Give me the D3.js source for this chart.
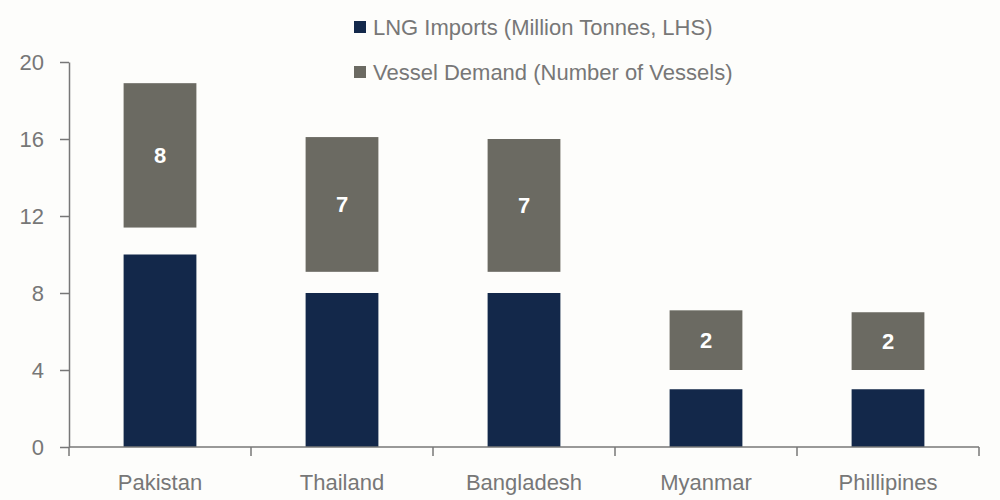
<!DOCTYPE html>
<html>
<head>
<meta charset="utf-8">
<script src="https://cdn.jsdelivr.net/npm/d3@7"></script>
<style>
  body { margin: 0; background: #fdfdfb; }
  text { font-family: "Liberation Sans Narrow", "Arial Narrow", "Liberation Sans", sans-serif; }
</style>
</head>
<body>
<svg id="chart"></svg>
<script>
const width = 1000;
const height = 500;
const margin = { top: 62, right: 21, bottom: 53, left: 69 };

// data
const countries = ["Pakistan", "Thailand", "Bangladesh", "Myanmar", "Phillipines"];
const lngImports = [10, 8, 8, 3, 3];
const vesselLow = [11.4, 9.1, 9.1, 4.0, 4.0];
const vesselHigh = [18.9, 16.1, 16.0, 7.1, 7.0];
const vesselCount = [8, 7, 7, 2, 2];
const yTicks = [0, 4, 8, 12, 16, 20];
const legendLabels = ["LNG Imports (Million Tonnes, LHS)", "Vessel Demand (Number of Vessels)"];

const navy = "#13284a";
const grey = "#6b6a62";
const axisGrey = "#777";

const svg = d3.select("#chart").attr("width", width).attr("height", height);

const x = d3.scaleBand()
    .domain(countries)
    .range([margin.left, width - margin.right]);

const y = d3.scaleLinear()
    .domain([0, 20])
    .range([height - margin.bottom, margin.top]);

const barW = x.bandwidth() * 0.4;
const barX = d => x(d) + (x.bandwidth() - barW) / 2;

// navy bars
svg.selectAll(".lng")
    .data(countries)
    .enter().append("rect")
    .attr("class", "lng")
    .attr("x", barX)
    .attr("y", (d, i) => y(lngImports[i]))
    .attr("width", barW)
    .attr("height", (d, i) => y(0) - y(lngImports[i]))
    .attr("fill", navy);

// grey floating bars
svg.selectAll(".vessel")
    .data(countries)
    .enter().append("rect")
    .attr("class", "vessel")
    .attr("x", barX)
    .attr("y", (d, i) => y(vesselHigh[i]))
    .attr("width", barW)
    .attr("height", (d, i) => y(vesselLow[i]) - y(vesselHigh[i]))
    .attr("fill", grey);

svg.selectAll(".vlabel")
    .data(countries)
    .enter().append("text")
    .attr("class", "vlabel")
    .attr("x", d => x(d) + x.bandwidth() / 2)
    .attr("y", (d, i) => y((vesselLow[i] + vesselHigh[i]) / 2))
    .attr("dy", "0.36em")
    .attr("text-anchor", "middle")
    .attr("fill", "#fff")
    .style("font-family", "'Liberation Sans', Arial, sans-serif")
    .style("font-weight", "bold")
    .style("font-size", "22px")
    .text((d, i) => vesselCount[i]);

// y axis
const yAxis = svg.append("g")
    .attr("transform", `translate(${margin.left},0)`)
    .call(d3.axisLeft(y).tickValues(yTicks).tickSize(9).tickPadding(16).tickSizeOuter(0));
yAxis.select(".domain").attr("stroke", axisGrey).attr("stroke-width", 1.5);
yAxis.selectAll(".tick line").attr("stroke", axisGrey).attr("stroke-width", 1.5);
yAxis.selectAll(".tick text")
    .attr("fill", axisGrey)
    .style("font-size", "22px");

// x axis with ticks at band boundaries
const xAxis = svg.append("g")
    .attr("transform", `translate(0,${y(0)})`);
xAxis.append("line")
    .attr("x1", margin.left).attr("x2", width - margin.right)
    .attr("stroke", axisGrey).attr("stroke-width", 1.5);
const bounds = countries.map(d => x(d)).concat([x(countries[countries.length - 1]) + x.bandwidth()]);
xAxis.selectAll(".xtick")
    .data(bounds)
    .enter().append("line")
    .attr("x1", d => d).attr("x2", d => d)
    .attr("y1", 0).attr("y2", 9)
    .attr("stroke", axisGrey).attr("stroke-width", 1.5);
xAxis.selectAll(".xlabel")
    .data(countries)
    .enter().append("text")
    .attr("x", d => x(d) + x.bandwidth() / 2)
    .attr("y", 43)
    .attr("text-anchor", "middle")
    .attr("fill", axisGrey)
    .style("font-size", "22px")
    .text(d => d);

// legend
const legend = svg.append("g").attr("transform", "translate(354,0)");
const legendColors = [navy, grey];
legend.selectAll("rect")
    .data(legendLabels)
    .enter().append("rect")
    .attr("x", 0)
    .attr("y", (d, i) => 21 + i * 45)
    .attr("width", 12)
    .attr("height", 12)
    .attr("fill", (d, i) => legendColors[i]);
legend.selectAll("text")
    .data(legendLabels)
    .enter().append("text")
    .attr("x", 19)
    .attr("y", (d, i) => 35 + i * 45)
    .attr("fill", axisGrey)
    .style("font-size", "22px")
    .text(d => d);
</script>
</body>
</html>
